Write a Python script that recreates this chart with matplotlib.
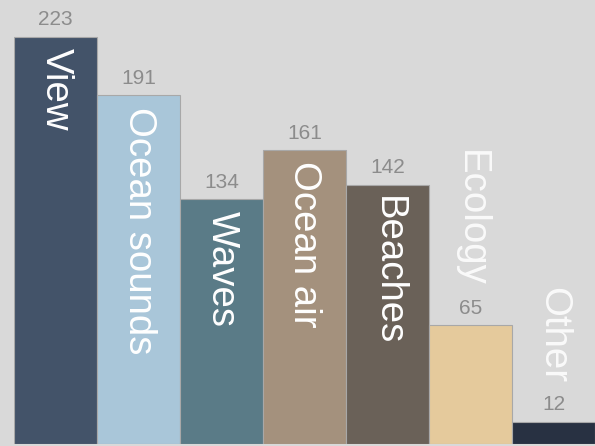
import matplotlib.pyplot as plt

# data
categories = ['View', 'Ocean sounds', 'Waves', 'Ocean air', 'Beaches', 'Ecology', 'Other']
values = [223, 191, 134, 161, 142, 65, 12]
colors = ['#435369', '#a9c6d9', '#5a7b87', '#a4917d', '#6a6158', '#e5ca9c', '#283142']

bg = '#d9d9d9'
fig = plt.figure(figsize=(5.95, 4.46), dpi=100, facecolor=bg)
ax = fig.add_axes([14 / 595, 2 / 446, 581 / 595, 444 / 446])
ax.set_facecolor(bg)

x = range(len(categories))
ax.bar(x, values, width=1.0, color=colors, edgecolor='#a8a8a8', linewidth=0.8)

ax.set_xlim(-0.5, len(categories) - 0.5)
ax.set_ylim(0, 243.3)
ax.axis('off')

for i, (name, v) in enumerate(zip(categories, values)):
    # value on top of the bar
    ax.annotate(str(v), (i, v), xytext=(0, 5.5), textcoords='offset points',
                ha='center', va='bottom', fontsize=15, color='#8c8c8c',
                fontstretch='condensed', family='Liberation Sans')
    # category name, inside the bar if it fits, otherwise above it
    if v > 100:
        ax.annotate(name, (i, v), xytext=(0, -8), textcoords='offset points',
                    ha='center', va='top', rotation=-90, fontsize=27.6,
                    color='white', family='Liberation Sans')
    else:
        ax.annotate(name, (i, v), xytext=(0, 28), textcoords='offset points',
                    ha='center', va='bottom', rotation=-90, fontsize=27.6,
                    color='#fafafa', family='Liberation Sans')

fig.savefig('out.png', dpi=100, facecolor=bg)
